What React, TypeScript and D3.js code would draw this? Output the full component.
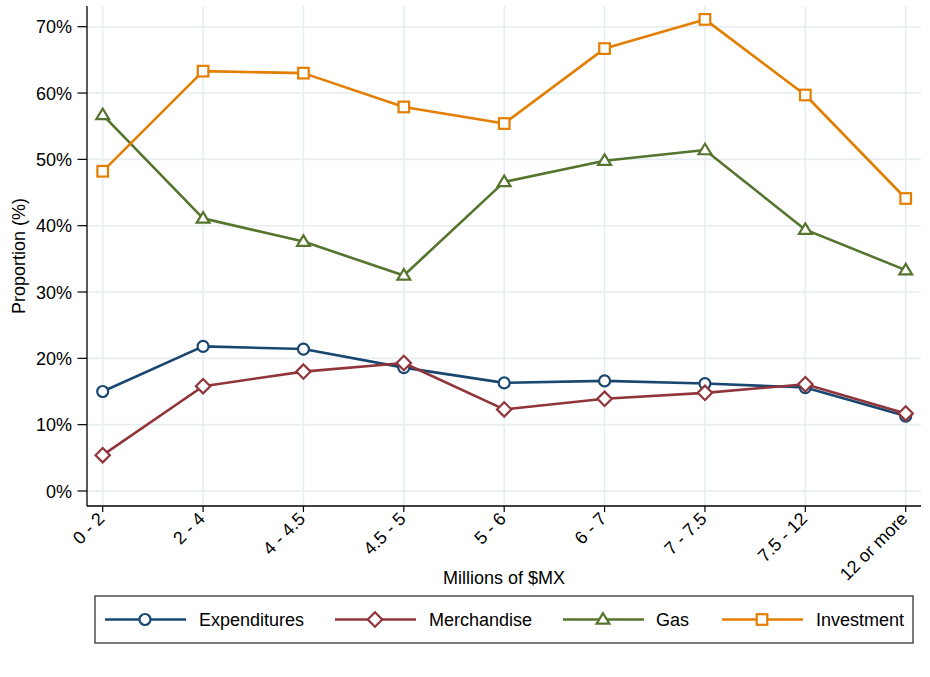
import React from "react";
import * as d3 from "d3";

const categories = ["0 - 2", "2 - 4", "4 - 4.5", "4.5 - 5", "5 - 6", "6 - 7", "7 - 7.5", "7.5 - 12", "12 or more"];
const expenditures = [15.0, 21.8, 21.4, 18.6, 16.3, 16.6, 16.2, 15.6, 11.3];
const merchandise = [5.4, 15.8, 18.0, 19.3, 12.3, 13.9, 14.8, 16.1, 11.7];
const gas = [56.7, 41.1, 37.6, 32.5, 46.6, 49.8, 51.4, 39.4, 33.3];
const investment = [48.2, 63.3, 63.0, 57.9, 55.4, 66.7, 71.1, 59.7, 44.1];
const yTicks = [0, 10, 20, 30, 40, 50, 60, 70];

const seriesNames = ["Expenditures", "Merchandise", "Gas", "Investment"];
const seriesValues = [expenditures, merchandise, gas, investment];
const seriesColors = ["#1a476f", "#90353b", "#55752f", "#e37e00"];
const seriesMarkers = ["circle", "diamond", "triangle", "square"];

const W = 930;
const H = 677;
const left = 87;
const right = 921;
const top = 6;
const bottom = 506;
const FONT = "'Liberation Sans', Arial, Helvetica, sans-serif";

function Marker({ type, x, y, color }: { type: string; x: number; y: number; color: string }) {
  const sw = 2.2;
  if (type === "circle") return <circle cx={x} cy={y} r={5.5} fill="white" stroke={color} strokeWidth={sw} />;
  if (type === "square") return <rect x={x - 5.3} y={y - 5.3} width={10.6} height={10.6} fill="white" stroke={color} strokeWidth={sw} />;
  if (type === "diamond") {
    const s = 7.2;
    return <path d={`M${x},${y - s}L${x + s},${y}L${x},${y + s}L${x - s},${y}Z`} fill="white" stroke={color} strokeWidth={sw} />;
  }
  const h = 10.5, w = 6.4;
  return <path d={`M${x},${y - h * 0.6}L${x + w},${y + h * 0.4}L${x - w},${y + h * 0.4}Z`} fill="white" stroke={color} strokeWidth={sw} strokeLinejoin="miter" />;
}

export default function App() {
  const x = d3.scalePoint<string>().domain(categories).range([102.7, 905.7]);
  const y = d3.scaleLinear().domain([0, 70]).range([491, 26.7]);
  const line = d3.line<number>().x((_, i) => x(categories[i]) as number).y((d) => y(d));

  const legendItems = [
    { lx: 105, tx: 199 },
    { lx: 335, tx: 429 },
    { lx: 563, tx: 656 },
    { lx: 722, tx: 816 },
  ];

  return (
    <svg width={W} height={H} style={{ position: "absolute", left: 0, top: 0, background: "white" }} fontFamily={FONT}>
      <rect x={0} y={0} width={W} height={H} fill="white" />
      {/* grid */}
      {yTicks.map((t) => (
        <line key={"gy" + t} x1={left} x2={right} y1={y(t)} y2={y(t)} stroke="#e6eef1" strokeWidth={1.6} />
      ))}
      {categories.map((c) => (
        <line key={"gx" + c} x1={x(c)} x2={x(c)} y1={top} y2={bottom} stroke="#e6eef1" strokeWidth={1.6} />
      ))}
      {/* axes */}
      <line x1={left} x2={left} y1={top} y2={bottom} stroke="#000" strokeWidth={1.3} />
      <line x1={left} x2={right} y1={bottom} y2={bottom} stroke="#000" strokeWidth={1.3} />
      {yTicks.map((t) => (
        <g key={"ty" + t}>
          <line x1={left - 9.5} x2={left} y1={y(t)} y2={y(t)} stroke="#000" strokeWidth={1.2} />
          <text x={72} y={y(t) + 6.5} textAnchor="end" fontSize={18} fill="#000">{t + "%"}</text>
        </g>
      ))}
      {categories.map((c) => (
        <g key={"tx" + c}>
          <line x1={x(c)} x2={x(c)} y1={bottom} y2={bottom + 6} stroke="#000" strokeWidth={1.2} />
          <text
            transform={`translate(${(x(c) as number) + 3},${520}) rotate(-45)`}
            textAnchor="end"
            fontSize={18}
            fill="#000"
          >
            {c}
          </text>
        </g>
      ))}
      <text x={(left + right) / 2} y={584} textAnchor="middle" fontSize={18} fill="#000">Millions of $MX</text>
      <text transform={`translate(25,${(top + bottom) / 2}) rotate(-90)`} textAnchor="middle" fontSize={18} fill="#000">Proportion (%)</text>
      {/* series */}
      {seriesValues.map((vals, si) => (
        <g key={"s" + si}>
          <path d={line(vals) || ""} fill="none" stroke={seriesColors[si]} strokeWidth={2.6} strokeLinejoin="round" />
          {vals.map((v, i) => (
            <Marker key={i} type={seriesMarkers[si]} x={x(categories[i]) as number} y={y(v)} color={seriesColors[si]} />
          ))}
        </g>
      ))}
      {/* legend */}
      <rect x={95} y={596} width={818} height={47} fill="white" stroke="#333" strokeWidth={1.3} />
      {seriesNames.map((n, si) => (
        <g key={"l" + si}>
          <line x1={legendItems[si].lx} x2={legendItems[si].lx + 81} y1={619.5} y2={619.5} stroke={seriesColors[si]} strokeWidth={2.6} />
          <Marker type={seriesMarkers[si]} x={legendItems[si].lx + 40} y={619.5} color={seriesColors[si]} />
          <text x={legendItems[si].tx} y={626} fontSize={18} fill="#000">{n}</text>
        </g>
      ))}
    </svg>
  );
}
